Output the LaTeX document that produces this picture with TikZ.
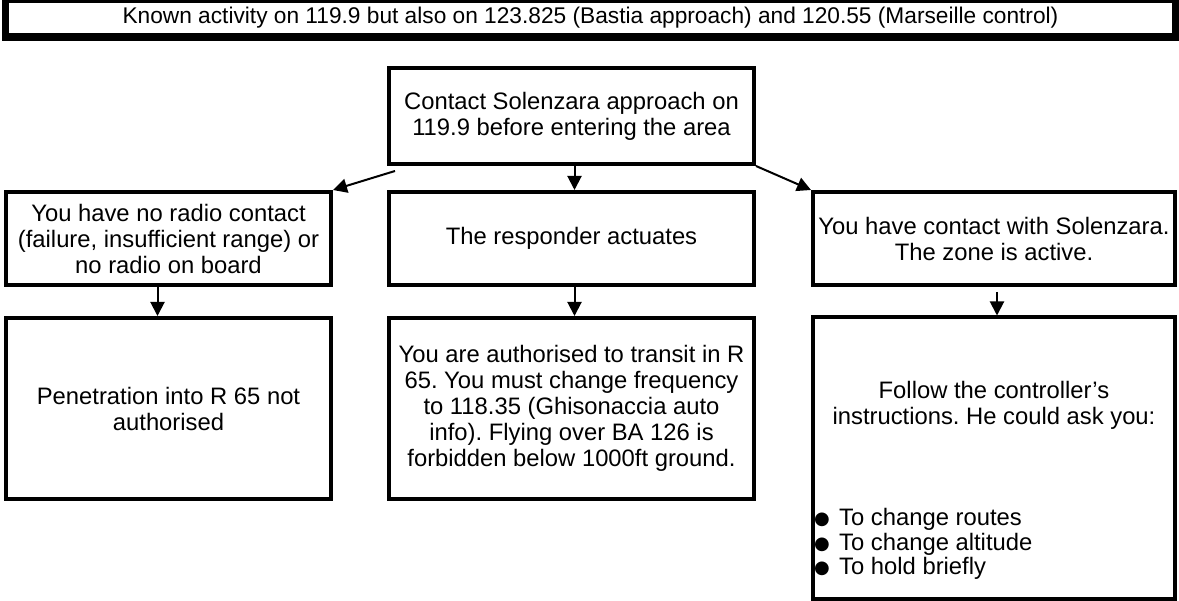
\documentclass[tikz,border=0pt]{standalone}
\usepackage{fontspec}
\setmainfont{Liberation Sans}
\newfontfamily\dotfont{DejaVu Sans}
\usetikzlibrary{arrows.meta}
\newcommand{\dotitem}{\makebox[25pt][l]{\raisebox{1pt}{\dotfont\fontsize{18}{18}\selectfont ●}}}
\frenchspacing

\begin{document}
\begin{tikzpicture}[x=1pt,y=-1pt]

      \useasboundingbox (0,0) rectangle (1179,601);

      % banner at the top
      \fill (2,0) rectangle (1179,41);
      \node (known) at (590.5,18) [fill=white, minimum width=1163pt, minimum height=30pt, inner sep=0pt,
        font=\fontsize{22.7}{26}\selectfont]
        {Known activity on 119.9 but also on 123.825 (Bastia approach) and 120.55 (Marseille control)};

      \begin{scope}[every node/.style={draw, line width=4pt, inner sep=0pt, align=center,
          font=\fontsize{23.8}{26}\selectfont}]
        \node (contact)     at (571.5,116) [minimum width=365pt, minimum height=96pt]
          {Contact Solenzara approach on\\119.9 before entering the area};
        \node (noradio)     at (168.5,238.5) [minimum width=325pt, minimum height=93pt]
          {You have no radio contact\\(failure, insufficient range) or\\no radio on board};
        \node (responder)   at (571.5,238.5) [minimum width=365pt, minimum height=93pt]
          {The responder actuates};
        \node (active)      at (994,238.5) [minimum width=362pt, minimum height=93pt]
          {You have contact with Solenzara.\\The zone is active.};
        \node (penetration) at (168.5,408.5) [minimum width=325pt, minimum height=181pt]
          {Penetration into R 65 not\\authorised};
        \node (transit)     at (571.5,408.5) [minimum width=365pt, minimum height=181pt]
          {You are authorised to transit in R\\65. You must change frequency\\to 118.35 (Ghisonaccia auto\\info). Flying over BA 126 is\\forbidden below 1000ft ground.};
        \node (follow)      at (994,458) [minimum width=362pt, minimum height=281pt] {};
      \end{scope}

      \begin{scope}[every node/.style={inner sep=3pt, font=\fontsize{23.8}{26}\selectfont}]
        \node (followtxt) at (994,405) [align=center]
          {Follow the controller’s\\instructions. He could ask you:};
        \node (asks) at ([yshift=18pt]follow.south west) [anchor=south west, align=left,
          font=\fontsize{23.8}{24.3}\selectfont]
          {\dotitem To change routes\\\dotitem To change altitude\\\dotitem To hold briefly};
      \end{scope}

      \begin{scope}[every edge/.style={draw, line width=2pt, -{Triangle[length=14pt,width=14pt]}}]
        \path ([xshift=8pt,yshift=-5pt]contact.south west) edge (noradio.north east);
        \path ([xshift=3pt]contact.south) edge ([xshift=3pt]responder.north);
        \path (contact.south east) edge (active.north west);
        \path ([xshift=-11pt]noradio.south) edge ([xshift=-11pt]penetration.north);
        \path ([xshift=3pt]responder.south) edge ([xshift=3pt]transit.north);
        \path ([xshift=3pt,yshift=-5pt]active.south) edge ([xshift=3pt]follow.north);
      \end{scope}

    \end{tikzpicture}
\end{document}
